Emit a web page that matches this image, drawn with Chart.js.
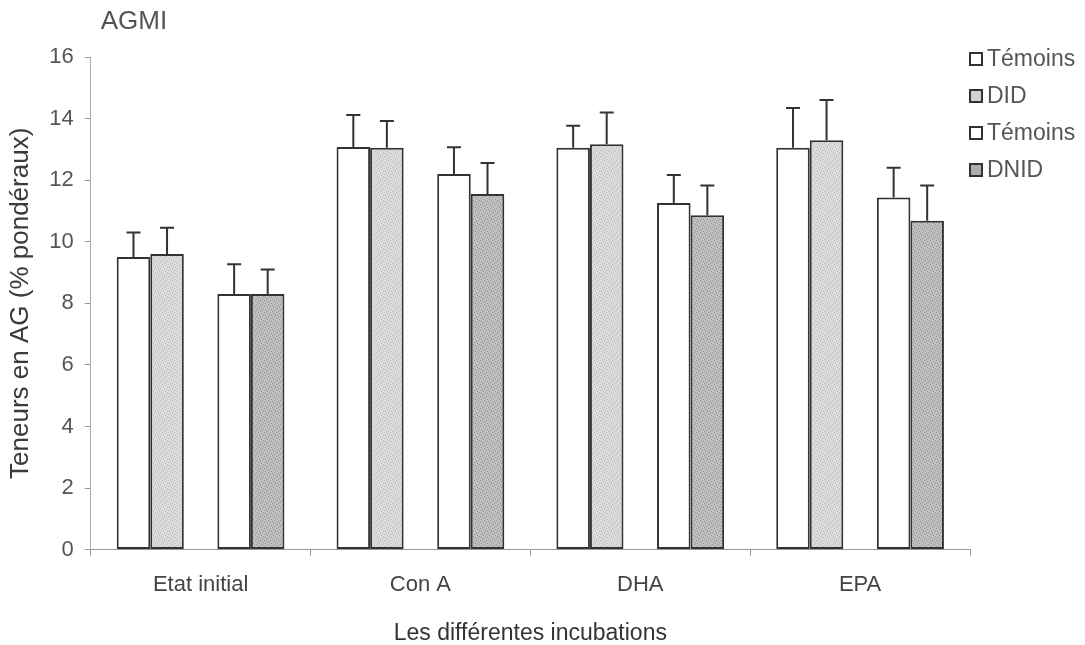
<!DOCTYPE html>
<html>
<head>
<meta charset="utf-8">
<script src="https://cdn.jsdelivr.net/npm/chart.js@4.4.0/dist/chart.umd.min.js"></script>
<style>
  html, body { margin: 0; padding: 0; background: #fff; }
  #wrap { position: relative; width: 1085px; height: 645px; }
  #legend { position: absolute; left: 969px; top: 40px; font-family: "Liberation Sans", Arial, sans-serif; font-size: 23px; color: #555; }
  #legend div { height: 37px; display: flex; align-items: center; }
  #legend span.box { display: inline-block; width: 10px; height: 10px; border: 2px solid #333; margin-right: 4px; }
</style>
</head>
<body>
<div id="wrap">
  <canvas id="chart" width="1085" height="645"></canvas>
  <div id="legend"></div>
</div>
<script>
// AGMI - teneurs en AG selon les incubations
const categories = ['Etat initial', 'Con A', 'DHA', 'EPA'];
const seriesNames = ['Témoins', 'DID', 'Témoins', 'DNID'];

const temoinsDID = [9.5, 13.08, 13.05, 13.05];
const did = [9.6, 13.05, 13.17, 13.3];
const temoinsDNID = [8.3, 12.2, 11.26, 11.44];
const dnid = [8.3, 11.55, 10.86, 10.68];

const errTemoinsDID = [0.8, 1.04, 0.72, 1.29];
const errDID = [0.85, 0.87, 1.03, 1.3];
const errTemoinsDNID = [0.97, 0.87, 0.91, 0.96];
const errDNID = [0.8, 1.01, 0.97, 1.15];

const yTicks = [0, 2, 4, 6, 8, 10, 12, 14, 16];

const FONT = '"Liberation Sans", Arial, sans-serif';

// speckled fill like the scanned figure
function speckle(base, dot) {
  const c = document.createElement('canvas');
  c.width = 6; c.height = 6;
  const g = c.getContext('2d');
  g.fillStyle = base;
  g.fillRect(0, 0, 6, 6);
  g.fillStyle = dot;
  [[0, 0], [3, 1], [1, 3], [4, 4], [2, 5], [5, 2]].forEach(p => g.fillRect(p[0], p[1], 1, 1));
  return g.createPattern(c, 'repeat');
}

const fillWhite = '#ffffff';
const fillDID = speckle('#dcdcdc', '#b8b8b8');
const fillDNID = speckle('#c0c0c0', '#909090');

const legendFills = ['#ffffff', '#d2d2d2', '#ffffff', '#adadad'];
const legend = document.getElementById('legend');
seriesNames.forEach((name, i) => {
  const row = document.createElement('div');
  row.innerHTML = `<span class="box" style="background:${legendFills[i]}"></span>${name}`;
  legend.appendChild(row);
});

function barSet(label, data, fill, errs) {
  return {
    label: label,
    data: data,
    errors: errs,
    backgroundColor: fill,
    borderColor: '#333',
    borderWidth: 2,
    borderSkipped: false
  };
}

const errorBars = {
  id: 'errorBars',
  afterDatasetsDraw(chart) {
    const ctx = chart.ctx;
    const y = chart.scales.y;
    ctx.save();
    ctx.strokeStyle = '#333';
    ctx.lineWidth = 2;
    chart.data.datasets.forEach((ds, i) => {
      if (!ds.errors) return;
      const meta = chart.getDatasetMeta(i);
      meta.data.forEach((bar, j) => {
        const v = ds.data[j];
        const top = y.getPixelForValue(v + ds.errors[j]);
        ctx.beginPath();
        ctx.moveTo(bar.x, y.getPixelForValue(v));
        ctx.lineTo(bar.x, top);
        ctx.moveTo(bar.x - 7, top);
        ctx.lineTo(bar.x + 7, top);
        ctx.stroke();
      });
    });
    ctx.restore();
  }
};

const cornerTitle = {
  id: 'cornerTitle',
  afterDraw(chart) {
    const ctx = chart.ctx;
    ctx.save();
    ctx.font = '26px ' + FONT;
    ctx.fillStyle = '#555';
    ctx.textBaseline = 'middle';
    ctx.fillText('AGMI', chart.chartArea.left + 10, 22);
    ctx.restore();
  }
};

new Chart(document.getElementById('chart'), {
  type: 'bar',
  data: {
    labels: categories,
    datasets: [
      barSet(seriesNames[0], temoinsDID, fillWhite, errTemoinsDID),
      barSet(seriesNames[1], did, fillDID, errDID),
      { label: '', data: [null, null, null, null] },
      barSet(seriesNames[2], temoinsDNID, fillWhite, errTemoinsDNID),
      barSet(seriesNames[3], dnid, fillDNID, errDNID)
    ]
  },
  options: {
    responsive: false,
    animation: false,
    layout: { padding: { left: 5, right: 115, top: 57, bottom: 0 } },
    datasets: { bar: { categoryPercentage: 0.763, barPercentage: 1 } },
    plugins: {
      legend: { display: false },
      tooltip: { enabled: false }
    },
    scales: {
      x: {
        grid: { offset: true, drawOnChartArea: false, tickLength: 6, color: '#999' },
        border: { color: '#999', width: 1 },
        ticks: { color: '#444', font: { family: FONT, size: 22 }, padding: 16 },
        title: {
          display: true,
          text: 'Les différentes incubations',
          color: '#333',
          font: { family: FONT, size: 23, lineHeight: 1.0 },
          padding: { top: 8, bottom: 0 }
        }
      },
      y: {
        min: 0,
        max: 16,
        afterBuildTicks: axis => { axis.ticks = yTicks.map(v => ({ value: v })); },
        grid: { drawOnChartArea: false, tickLength: 6, color: '#999' },
        border: { color: '#aaa', width: 1, dash: [2, 2] },
        ticks: { color: '#555', font: { family: FONT, size: 22 }, padding: 11 },
        title: {
          display: true,
          text: 'Teneurs en AG (% pondéraux)',
          color: '#3a3a3a',
          font: { family: FONT, size: 26, lineHeight: 1.2 },
          padding: { top: 0, bottom: 2 }
        }
      }
    }
  },
  plugins: [errorBars, cornerTitle]
});
</script>
</body>
</html>
